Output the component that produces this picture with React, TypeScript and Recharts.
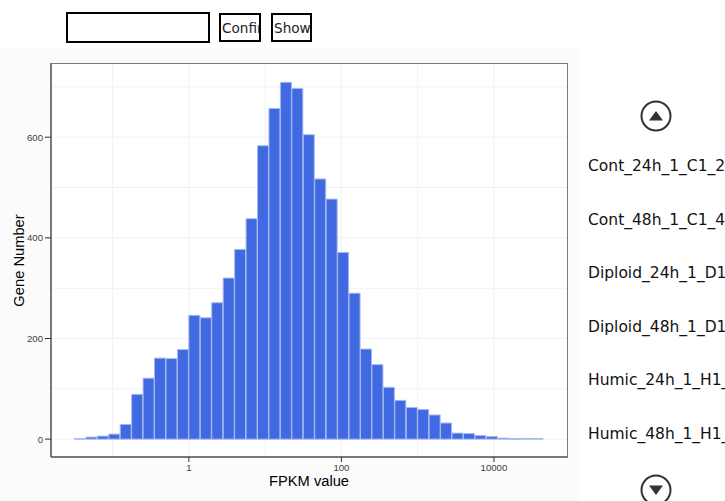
import React from "react"
import {
  BarChart,
  Bar,
  XAxis,
  YAxis,
  CartesianGrid,
  Label,
} from "recharts"

// histogram of log10(FPKM), bins 0.15 wide starting at log10 = -1.5
const binStart = -1.5
const binWidth = 0.15
const geneCounts = [
  1, 4, 6, 10, 29, 89, 121, 161, 160, 178,
  246, 241, 271, 320, 377, 438, 583, 657, 709, 697,
  605, 517, 477, 371, 290, 179, 148, 103, 77, 63,
  59, 48, 32, 12, 11, 7, 5, 2, 1, 1, 1,
]
const xTicks = [0, 2, 4]
const xGrid = [-1, 0, 1, 2, 3, 4]
const yTicks = [0, 200, 400, 600]
const yGrid = [0, 100, 200, 300, 400, 500, 600, 700]
const sampleNames = [
  "Cont_24h_1_C1_24h",
  "Cont_48h_1_C1_48h",
  "Diploid_24h_1_D1_24h",
  "Diploid_48h_1_D1_48h",
  "Humic_24h_1_H1_24h",
  "Humic_48h_1_H1_48h",
]

const histData = geneCounts.map((count, i) => ({
  logFpkm: binStart + binWidth * i + binWidth / 2,
  count,
}))

const chartFont = "'Liberation Sans', Arial, sans-serif"
const uiFont = "'DejaVu Sans', sans-serif"

function ArrowButton({ top, down }: { top: number; down?: boolean }) {
  return (
    <svg
      width={34}
      height={34}
      style={{ position: "absolute", left: 639, top, overflow: "visible" }}
    >
      <circle cx={17} cy={17} r={14.5} fill="#fff" stroke="#333" strokeWidth={2} />
      {down ? (
        <polygon points="10,12.5 24,12.5 17,22" fill="#333" />
      ) : (
        <polygon points="10,21.5 24,21.5 17,12" fill="#333" />
      )}
    </svg>
  )
}

export default function App() {
  return (
    <div
      style={{
        position: "absolute",
        left: 0,
        top: 0,
        width: 725,
        height: 501,
        overflow: "hidden",
        background: "#fff",
      }}
    >
      {/* top controls */}
      <input
        type="text"
        style={{
          position: "absolute",
          left: 66,
          top: 12,
          width: 144,
          height: 31,
          boxSizing: "border-box",
          border: "2px solid #000",
          padding: 0,
          outline: "none",
        }}
      />
      {["Confirm", "Show"].map((txt, i) => (
        <button
          key={txt}
          style={{
            position: "absolute",
            left: i === 0 ? 219 : 271,
            top: 13,
            width: i === 0 ? 42 : 41,
            height: 29,
            boxSizing: "border-box",
            border: "2px solid #000",
            background: "#fff",
            padding: "0 0 0 1px",
            textAlign: "left",
            overflow: "hidden",
            whiteSpace: "nowrap",
            fontFamily: uiFont,
            fontSize: 13.6,
            color: "#222",
          }}
        >
          {txt}
        </button>
      ))}

      {/* chart area */}
      <div
        style={{
          position: "absolute",
          left: 0,
          top: 48,
          width: 580,
          height: 453,
          background: "#fbfbfb",
        }}
      >
        <div
          style={{
            position: "absolute",
            left: 51,
            top: 16,
            width: 516,
            height: 393,
            background: "#fff",
          }}
        />
        <BarChart
          width={580}
          height={453}
          data={histData}
          margin={{ top: 16, right: 13, bottom: 10, left: 11 }}
          barCategoryGap={0}
          barGap={0}
          style={{ position: "absolute", left: 0, top: 0, fontFamily: chartFont }}
        >
          <CartesianGrid
            stroke="#f1f1f5"
            strokeWidth={1}
            horizontalValues={yGrid}
            verticalValues={xGrid}
          />
          <XAxis
            dataKey="logFpkm"
            type="number"
            domain={[-1.8075, 4.9575]}
            ticks={xTicks}
            tickFormatter={(v: number) => String(Math.round(Math.pow(10, v)))}
            height={34}
            tickSize={5}
            tickMargin={2}
            stroke="#333"
            axisLine={{ stroke: "#4d4d4d", strokeWidth: 1.5 }}
            tick={{ fontSize: 9.6, fill: "#3d3d3d" }}
          >
            <Label
              value="FPKM value"
              position="insideBottom"
              offset={5}
              style={{ fontSize: 14.7, fill: "#000", fontFamily: chartFont }}
            />
          </XAxis>
          <YAxis
            type="number"
            domain={[-35.5, 745.5]}
            ticks={yTicks}
            width={40}
            tickSize={6}
            tickMargin={2}
            stroke="#333"
            axisLine={{ stroke: "#4d4d4d", strokeWidth: 1.5 }}
            tick={{ fontSize: 9.6, fill: "#3d3d3d" }}
          >
            <Label
              value="Gene Number"
              angle={-90}
              position="insideLeft"
              offset={8}
              style={{ fontSize: 14.7, fill: "#000", textAnchor: "middle", fontFamily: chartFont }}
            />
          </YAxis>
          <Bar
            dataKey="count"
            fill="#4169e1"
            stroke="#a5b8f0"
            strokeWidth={1}
            isAnimationActive={false}
          />
        </BarChart>
        {/* panel border */}
        <div
          style={{
            position: "absolute",
            left: 50,
            top: 15,
            width: 517,
            height: 394,
            borderTop: "1px solid #7a7a7a",
            borderRight: "1px solid #7a7a7a",
            pointerEvents: "none",
          }}
        />
      </div>

      {/* sample selector */}
      <ArrowButton top={99} />
      {sampleNames.map((name, i) => (
        <div
          key={name}
          style={{
            position: "absolute",
            left: 588,
            top: 156 + i * 53.5,
            whiteSpace: "nowrap",
            fontFamily: uiFont,
            fontSize: 15.5,
            lineHeight: "20px",
            color: "#111",
          }}
        >
          {name}
        </div>
      ))}
      <ArrowButton top={473} down />
    </div>
  )
}
